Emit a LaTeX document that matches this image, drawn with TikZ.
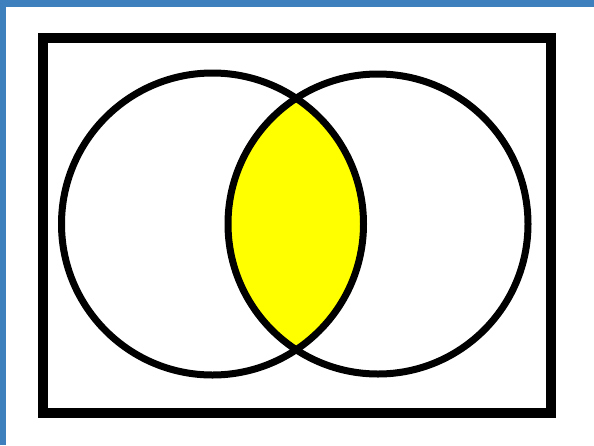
\documentclass[tikz,border=0pt]{standalone}
\definecolor{framblue}{RGB}{62,128,190}
\definecolor{lensyellow}{RGB}{255,255,0}
\tikzset{
  setline/.style={black, line width=7pt},
  boxline/.style={black, line width=9.5pt}
}
\begin{document}
\begin{tikzpicture}[x=1pt,y=-1pt]
  \useasboundingbox (0,0) rectangle (594,445);
  \fill[framblue] (0,0) rectangle (594,445);
  \fill[white] (6,7) rectangle (594,445);
  \draw[boxline] (43,38) rectangle (551,413);
  \begin{scope}
    \clip (212.5,224) circle[radius=151];
    \fill[lensyellow] (378,224) circle[radius=150];
  \end{scope}
  \draw[setline] (212.5,224) circle[radius=151];
  \draw[setline] (378,224) circle[radius=150];
\end{tikzpicture}
\end{document}
